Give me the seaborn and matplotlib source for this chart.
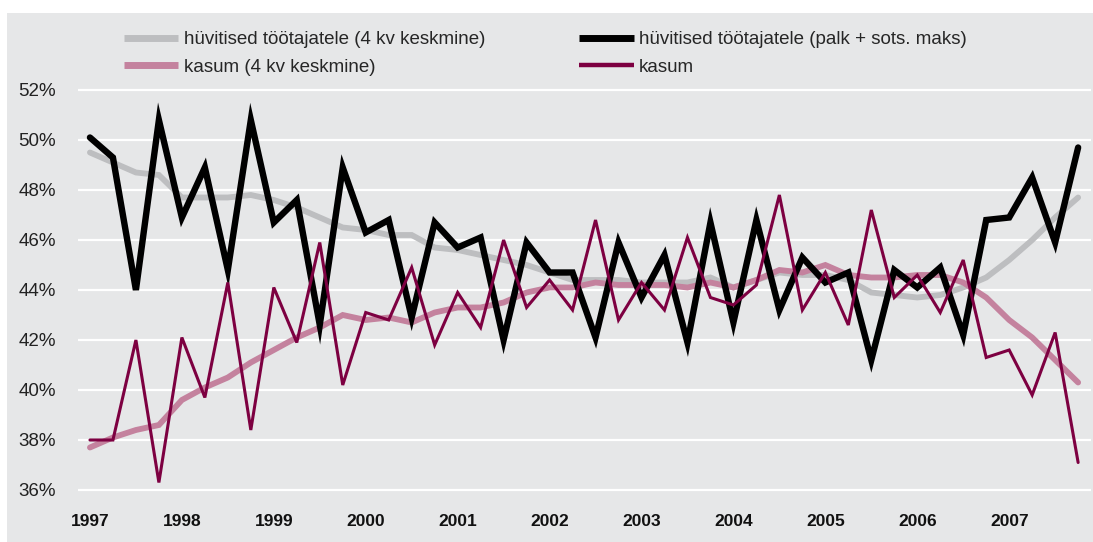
import pandas as pd
import matplotlib.pyplot as plt
import seaborn as sns
from matplotlib.patches import Rectangle

# kvartalid 1997 Q1 ... 2007 Q4
YEARS = list(range(1997, 2008))
QUARTER = list(range(44))

huvitised = [50.1, 49.3, 44.0, 50.8, 46.9, 48.9, 44.8, 50.8, 46.7, 47.6, 42.6, 48.9,
             46.3, 46.8, 42.9, 46.7, 45.7, 46.1, 42.0, 45.9, 44.7, 44.7, 42.1, 45.9,
             43.7, 45.4, 41.9, 46.7, 42.7, 46.8, 43.2, 45.3, 44.3, 44.7, 41.2, 44.8,
             44.1, 44.9, 42.2, 46.8, 46.9, 48.5, 45.9, 49.7]
huvitised_kesk = [49.5, 49.1, 48.7, 48.6, 47.7, 47.7, 47.7, 47.8, 47.6, 47.3, 46.9, 46.5,
                  46.4, 46.2, 46.2, 45.7, 45.6, 45.4, 45.2, 45.0, 44.7, 44.4, 44.4, 44.4,
                  44.3, 44.3, 44.3, 44.5, 44.1, 44.4, 44.7, 44.6, 44.6, 44.4, 43.9, 43.8,
                  43.7, 43.8, 44.1, 44.5, 45.2, 46.0, 46.9, 47.7]
kasum = [38.0, 38.0, 42.0, 36.3, 42.1, 39.7, 44.3, 38.4, 44.1, 41.9, 45.9, 40.2,
         43.1, 42.8, 44.9, 41.8, 43.9, 42.5, 46.0, 43.3, 44.4, 43.2, 46.8, 42.8,
         44.3, 43.2, 46.1, 43.7, 43.4, 44.2, 47.8, 43.2, 44.7, 42.6, 47.2, 43.7,
         44.6, 43.1, 45.2, 41.3, 41.6, 39.8, 42.3, 37.1]
kasum_kesk = [37.7, 38.1, 38.4, 38.6, 39.6, 40.1, 40.5, 41.1, 41.6, 42.1, 42.5, 43.0,
              42.8, 42.9, 42.7, 43.1, 43.3, 43.3, 43.5, 43.9, 44.1, 44.1, 44.3, 44.2,
              44.2, 44.2, 44.1, 44.3, 44.1, 44.4, 44.8, 44.7, 45.0, 44.6, 44.5, 44.5,
              44.6, 44.6, 44.3, 43.7, 42.8, 42.1, 41.2, 40.3]

LABELS = ["hüvitised töötajatele (4 kv keskmine)",
          "kasum (4 kv keskmine)",
          "hüvitised töötajatele (palk + sots. maks)",
          "kasum"]
SERIES = [huvitised_kesk, kasum_kesk, huvitised, kasum]
COLORS = ["#bdbec0", "#c4829e", "#000000", "#7d0041"]
WIDTHS = [4.2, 4.2, 4.6, 2.2]

BG = "#e6e7e8"

sns.set_theme(style="white")
plt.rcParams['font.family'] = ['Liberation Sans', 'DejaVu Sans']

df = pd.concat([pd.DataFrame({"q": QUARTER, "val": s, "seeria": lab})
                for s, lab in zip(SERIES, LABELS)], ignore_index=True)

fig = plt.figure(figsize=(10.93, 5.42), dpi=100, facecolor="white")
fig.patches.append(Rectangle((7 / 1093, 0), 1, (542 - 13) / 542, transform=fig.transFigure,
                             facecolor=BG, edgecolor="none", zorder=-10))
ax = fig.add_axes([78 / 1093, 1 - 495 / 542, (1091 - 78) / 1093, 410 / 542])
ax.set_facecolor(BG)

for lab, col, lw in zip(LABELS, COLORS, WIDTHS):
    sns.lineplot(data=df[df["seeria"] == lab], x="q", y="val", color=col,
                 linewidth=lw, label=lab, ax=ax, solid_joinstyle="miter")

ax.set_xlim(-0.52, 43.56)
ax.set_ylim(35.8, 52.2)
ax.set_yticks(range(36, 53, 2))
ax.set_yticklabels([f"{v}%" for v in range(36, 53, 2)], fontsize=13.5)
ax.set_xticks(QUARTER[::4])
ax.set_xticklabels([str(y) for y in YEARS], fontsize=12.5, fontweight="bold")
ax.tick_params(axis="y", length=0, pad=16, colors="#222222")
ax.tick_params(axis="x", length=0, pad=14, colors="#111111")
ax.grid(axis="y", color="white", linewidth=1.6)
ax.grid(axis="x", visible=False)
ax.set_xlabel("")
ax.set_ylabel("")
for sp in ax.spines.values():
    sp.set_visible(False)

ax.get_legend().remove()
handles, labels = ax.get_legend_handles_labels()
leg = fig.legend(handles, labels, ncol=2, loc="upper left",
                 bbox_to_anchor=(124 / 1093, 1 - 31 / 542), frameon=False,
                 fontsize=13.5, handlelength=2.9, handletextpad=0.3,
                 columnspacing=5.0, labelspacing=0.56, borderpad=0, borderaxespad=0)
for h, lw in zip(leg.get_lines(), [5, 5, 5, 3.2]):
    h.set_linewidth(lw)
    h.set_solid_capstyle("butt")

fig.savefig("out.png", dpi=100, facecolor="white")
